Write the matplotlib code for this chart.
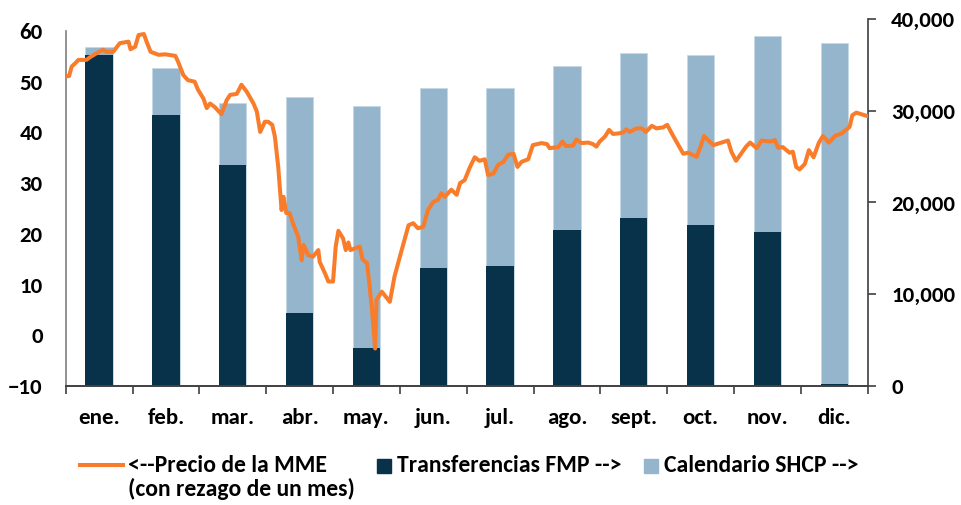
import matplotlib
matplotlib.use("Agg")
import matplotlib.pyplot as plt
from matplotlib.lines import Line2D
from matplotlib.patches import Rectangle
import numpy as np

plt.rcParams['font.family'] = ['Carlito', 'DejaVu Sans']
plt.rcParams['font.weight'] = 'bold'

# ---- data ----
months = ["ene.", "feb.", "mar.", "abr.", "may.", "jun.", "jul.", "ago.",
          "sept.", "oct.", "nov.", "dic."]
calendario_shcp = [36900, 34700, 30800, 31500, 30500, 32500, 32500, 34900,
                   36300, 36100, 38150, 37400]
transferencias_fmp = [36100, 29500, 24100, 8000, 4100, 12900, 13100, 17000,
                      18300, 17500, 16800, 200]

# price line: position in months since start of year (0..12), price (USD)
precio_mes = [0.00, 0.05, 0.09, 0.14, 0.19, 0.31, 0.36, 0.46, 0.56, 0.61, 0.71,
              0.81, 0.94, 0.97, 1.04, 1.09, 1.17, 1.21, 1.27, 1.39, 1.49, 1.64,
              1.68, 1.76, 1.83, 1.93, 1.98, 2.06, 2.11, 2.16, 2.23, 2.33, 2.41,
              2.46, 2.56, 2.63, 2.71, 2.81, 2.86, 2.91, 2.98, 3.03, 3.09, 3.13,
              3.18, 3.23, 3.26, 3.30, 3.35, 3.40, 3.48, 3.53, 3.56, 3.63, 3.70,
              3.78, 3.80, 3.88, 3.93, 4.00, 4.04, 4.08, 4.15, 4.19, 4.23, 4.26,
              4.40, 4.44, 4.51, 4.58, 4.63, 4.65, 4.73, 4.85, 4.92, 5.00, 5.07,
              5.13, 5.20, 5.27, 5.35, 5.42, 5.50, 5.57, 5.62, 5.67, 5.77, 5.85,
              5.90, 5.97, 6.04, 6.12, 6.19, 6.27, 6.32, 6.40, 6.47, 6.55, 6.62,
              6.70, 6.76, 6.82, 6.92, 6.99, 7.12, 7.20, 7.24, 7.37, 7.43, 7.49,
              7.59, 7.64, 7.72, 7.82, 7.89, 7.94, 7.99, 8.07, 8.13, 8.19, 8.27,
              8.34, 8.39, 8.44, 8.54, 8.62, 8.68, 8.77, 8.84, 8.94, 9.00, 9.09,
              9.24, 9.31, 9.44, 9.50, 9.55, 9.61, 9.69, 9.79, 9.91, 9.96, 10.03,
              10.11, 10.18, 10.24, 10.34, 10.41, 10.54, 10.61, 10.66, 10.73,
              10.83, 10.88, 10.93, 10.98, 11.06, 11.12, 11.19, 11.27, 11.33,
              11.42, 11.51, 11.61, 11.73, 11.77, 11.83, 11.95, 12.00]
precio_mme = [51.1, 51.1, 53.0, 53.6, 54.3, 54.3, 54.8, 55.6, 56.3, 55.9, 55.9,
              57.6, 57.9, 56.4, 56.9, 59.2, 59.4, 57.9, 55.9, 55.3, 55.4, 55.1,
              54.0, 51.3, 50.3, 50.0, 48.4, 46.7, 44.8, 45.7, 45.0, 43.6, 46.4,
              47.4, 47.6, 49.4, 48.0, 45.7, 44.1, 40.1, 42.1, 42.1, 41.5, 39.2,
              33.2, 24.7, 27.3, 24.1, 24.1, 22.1, 19.4, 14.8, 17.8, 15.8, 15.5,
              16.8, 14.5, 12.2, 10.6, 10.6, 17.5, 20.6, 19.1, 16.8, 18.3, 16.8,
              17.5, 15.0, 14.2, 5.6, -2.6, 7.0, 8.6, 6.6, 11.6, 15.5, 18.8,
              21.7, 22.1, 21.1, 21.4, 24.7, 26.3, 26.7, 28.0, 27.3, 28.7, 27.7,
              30.0, 30.6, 32.9, 35.1, 34.4, 34.7, 31.6, 31.9, 33.6, 34.2, 35.6,
              35.8, 33.2, 34.2, 34.7, 37.5, 37.9, 37.7, 36.9, 37.1, 38.2, 37.3,
              37.4, 38.6, 37.9, 38.0, 37.7, 37.2, 38.2, 39.2, 40.5, 39.7, 39.8,
              40.0, 40.6, 40.1, 40.8, 40.8, 40.1, 41.3, 40.8, 41.0, 41.5, 39.3,
              35.8, 36.0, 35.2, 37.2, 39.3, 38.5, 37.5, 37.9, 38.4, 36.2, 34.4,
              35.9, 37.2, 38.0, 36.9, 38.4, 38.2, 38.5, 37.0, 37.1,
              36.0, 36.2, 33.2, 32.7, 33.8, 36.5, 35.1, 38.0, 39.3,
              38.0, 39.3, 39.8, 41.1, 43.4, 43.9, 43.4, 43.2]
legend_labels = ["<--Precio de la MME", "Transferencias FMP -->",
                 "Calendario SHCP -->", "(con rezago de un mes)"]

# ---- style ----
c_dark = "#08324A"
c_light = "#95B5CC"
c_orange = "#F97C2A"
fs = 16.5
fs_leg = 17
W, H = 961, 505

fig = plt.figure(figsize=(W / 100, H / 100), dpi=100)
ax = fig.add_axes([65.7 / W, 1 - 386 / H, (867.7 - 65.7) / W, (386 - 19) / H])
ax2 = ax.twinx()

x = np.arange(len(months))
ax2.bar(x, calendario_shcp, width=0.41, color=c_light, edgecolor="#C5D8E6",
        linewidth=0.6, zorder=1)
ax2.bar(x, transferencias_fmp, width=0.41, color=c_dark, zorder=2)
ax2.set_ylim(0, 40000)
ax2.set_yticks([0, 10000, 20000, 30000, 40000])
ax2.set_yticklabels([f"{v:,}" for v in [0, 10000, 20000, 30000, 40000]])

# line on left axis, drawn above bars
ax.set_zorder(ax2.get_zorder() + 1)
ax.patch.set_visible(False)
ax.plot(np.array(precio_mes) - 0.5, precio_mme, color=c_orange, lw=2.9,
        solid_joinstyle="round", zorder=5)
ax.set_ylim(-10, 60 + 12 / (355 / 70))
ax.set_yticks(np.arange(-10, 61, 10))
ax.set_xlim(-0.5, 11.5)

# x ticks: marks at boundaries, labels at centers
ax.set_xticks(np.arange(-0.5, 12.0, 1.0))
ax.set_xticklabels([])
ax.set_xticks(x, minor=True)
ax.set_xticklabels(months, minor=True)
ax.tick_params(axis="x", which="major", length=6, width=1.2, color="#404040", direction="out")
ax.tick_params(axis="x", which="minor", length=0, pad=16, labelsize=fs)
ax.tick_params(axis="y", length=0, pad=16.5, labelsize=fs)
ax2.tick_params(axis="y", length=5.5, width=1.2, color="#404040", pad=11.5, labelsize=fs)

for a in (ax, ax2):
    a.spines["top"].set_visible(False)
ax.spines["right"].set_visible(False)
ax2.spines["left"].set_visible(False)
ax2.spines["bottom"].set_visible(False)
ax.spines["left"].set_bounds(-10, 60)
ax.spines["left"].set_color("#7F7F7F")
ax.spines["left"].set_linewidth(1.2)
ax.spines["bottom"].set_color("#404040")
ax.spines["bottom"].set_linewidth(1.4)
ax2.spines["right"].set_color("#404040")
ax2.spines["right"].set_linewidth(1.2)

# ---- legend (drawn in figure pixel coordinates) ----
def fx(px):
    return px / W

def fy(py):
    return 1 - py / H

y1, y2 = 465, 489
fig.add_artist(Line2D([fx(80), fx(123)], [fy(y1), fy(y1)], color=c_orange, lw=2.9))
fig.text(fx(128), fy(y1), legend_labels[0], fontsize=fs_leg, ha="left", va="center")
fig.add_artist(Rectangle((fx(377), fy(y1 + 8)), 14 / W, 14 / H, color=c_dark))
fig.text(fx(397), fy(y1), legend_labels[1], fontsize=fs_leg, ha="left", va="center")
fig.add_artist(Rectangle((fx(644), fy(y1 + 8)), 14 / W, 14 / H, color=c_light))
fig.text(fx(664), fy(y1), legend_labels[2], fontsize=fs_leg, ha="left", va="center")
fig.text(fx(128), fy(y2), legend_labels[3], fontsize=fs_leg, ha="left", va="center")

fig.savefig("out.png", dpi=100)
